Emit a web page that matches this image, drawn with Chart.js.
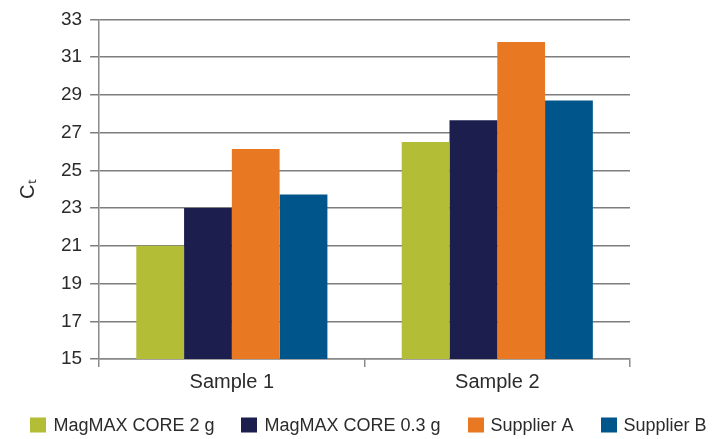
<!DOCTYPE html>
<html>
<head>
<meta charset="utf-8">
<script src="https://cdn.jsdelivr.net/npm/chart.js@4.4.1/dist/chart.umd.min.js"></script>
<style>
  html, body { margin: 0; padding: 0; background: #fff; }
  #wrap { width: 721px; height: 439px; }
</style>
</head>
<body>
<div id="wrap"><canvas id="c" width="721" height="439"></canvas></div>
<script>
const categories = ["Sample 1", "Sample 2"];
const seriesNames = ["MagMAX CORE 2 g", "MagMAX CORE 0.3 g", "Supplier A", "Supplier B"];
const magmax2g = [21.0, 26.5];
const magmax03g = [23.0, 27.65];
const supplierA = [26.13, 31.8];
const supplierB = [23.72, 28.7];
const yTicks = [15, 17, 19, 21, 23, 25, 27, 29, 31, 33];
const colors = ["#b3bd35", "#1c1f4e", "#e97823", "#00568a"];

const seriesValues = [magmax2g, magmax03g, supplierA, supplierB];
const FONT = "'Liberation Sans', Arial, sans-serif";
const TXT = "#2b2b2b";

// Legend drawn in one row from the chart's own dataset labels/colours
const bottomLegend = {
  id: 'bottomLegend',
  afterDraw(chart) {
    const ctx = chart.ctx;
    const items = chart.data.datasets.map(d => ({ text: d.label, color: d.backgroundColor }));
    const boxW = 16, boxH = 15, textGap = 7, itemGap = 27;
    ctx.save();
    ctx.font = "18px " + FONT;
    ctx.textBaseline = 'middle';
    ctx.textAlign = 'left';
    const widths = items.map(it => boxW + textGap + ctx.measureText(it.text).width);
    const total = widths.reduce((a, b) => a + b, 0) + itemGap * (items.length - 1);
    let x = chart.width / 2 + 8 - total / 2;
    const yc = 425;
    items.forEach((it, i) => {
      ctx.fillStyle = it.color;
      ctx.fillRect(Math.round(x), yc - boxH / 2, boxW, boxH);
      ctx.fillStyle = TXT;
      ctx.fillText(it.text, x + boxW + textGap, yc + 1);
      x += widths[i] + itemGap;
    });
    ctx.restore();
  }
};

new Chart(document.getElementById('c'), {
  type: 'bar',
  data: {
    labels: categories,
    datasets: seriesNames.map((n, i) => ({
      label: n,
      data: seriesValues[i],
      backgroundColor: colors[i],
      borderWidth: 0,
      categoryPercentage: 0.72,
      barPercentage: 1.0
    }))
  },
  plugins: [bottomLegend],
  options: {
    responsive: false,
    animation: false,
    devicePixelRatio: 1,
    layout: { padding: { top: 0, right: 0, left: 16, bottom: 44 } },
    plugins: {
      tooltip: { enabled: false },
      legend: { display: false }
    },
    scales: {
      x: {
        grid: { drawOnChartArea: false, drawTicks: true, tickLength: 8, offset: true, color: '#8a8a8a', lineWidth: 1.5 },
        border: { color: '#8a8a8a', width: 1.5 },
        ticks: { font: { family: FONT, size: 20 }, color: TXT, padding: 3 },
        afterFit: (axis) => { axis.height = 36; }
      },
      y: {
        min: 15,
        max: 33,
        afterBuildTicks: (axis) => { axis.ticks = yTicks.map(v => ({ value: v })); },
        grid: { color: '#7d7d7d', lineWidth: 1.5, tickLength: 9 },
        border: { color: '#8a8a8a', width: 1.5 },
        ticks: { font: { family: FONT, size: 19 }, color: TXT, padding: 8 },
        title: { display: true, text: 'Cₜ', font: { family: FONT, size: 20 }, color: TXT, padding: { top: 0, bottom: 13 } }
      },
      spacer: {
        type: 'linear',
        position: 'right',
        display: true,
        grid: { display: false, drawTicks: false },
        border: { display: false },
        ticks: { display: false },
        afterFit: (axis) => { axis.width = 91; }
      }
    }
  }
});
</script>
</body>
</html>
